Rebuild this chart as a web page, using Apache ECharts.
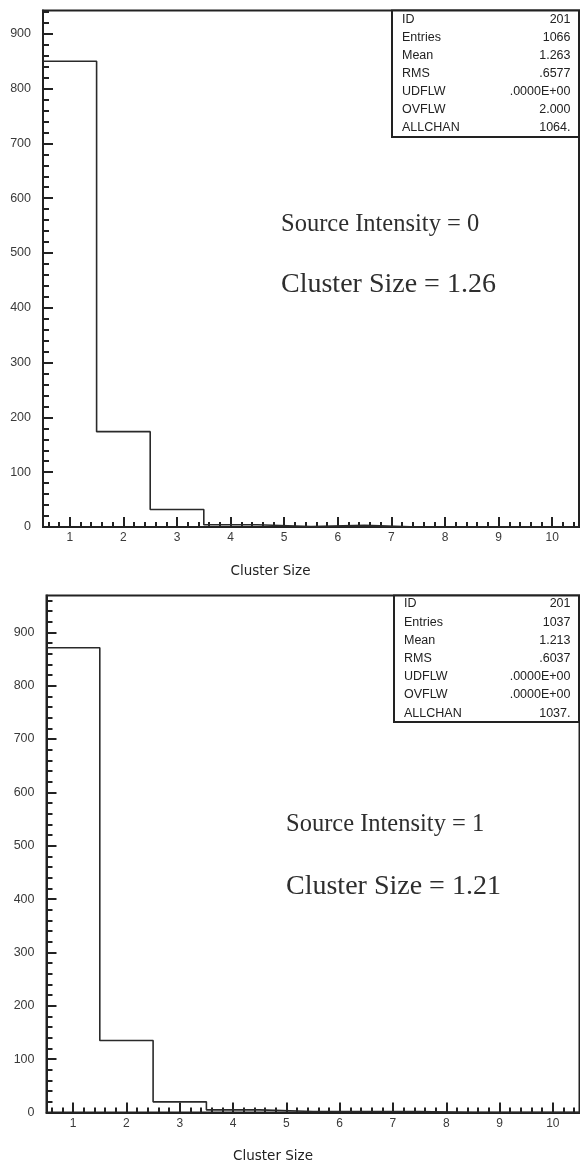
<!DOCTYPE html>
<html lang="en" style="height: 100%">
<head>
  <meta charset="utf-8">
</head>
<body style="height: 100%; margin: 0; background: #fff">
  <div id="container" style="width: 580px; height: 1163px"></div>

  <script type="text/javascript" src="https://cdn.jsdelivr.net/npm/echarts@6/dist/echarts.min.js"></script>

  <script type="text/javascript">
    var dom = document.getElementById('container');
    var myChart = echarts.init(dom, null, { renderer: 'canvas' });

    // histogram bins (cluster size 1..10)
    var binCenters = [1, 2, 3, 4, 5, 6, 7, 8, 9, 10];
    var countsIntensity0 = [850, 174, 32, 4, 1, 3, 0, 0, 0, 0];
    var countsIntensity1 = [871, 135, 20, 5, 2, 2, 2, 0, 0, 0];

    var xTickLabels = [1, 2, 3, 4, 5, 6, 7, 8, 9, 10];
    var yTickLabels = [0, 100, 200, 300, 400, 500, 600, 700, 800, 900];

    var statNames = ['ID', 'Entries', 'Mean', 'RMS', 'UDFLW', 'OVFLW', 'ALLCHAN'];
    var statValues0 = ['201', '1066', '1.263', '.6577', '.0000E+00', '2.000', '1064.'];
    var statValues1 = ['201', '1037', '1.213', '.6037', '.0000E+00', '.0000E+00', '1037.'];

    var annot0 = ['Source Intensity = 0', 'Cluster Size = 1.26'];
    var annot1 = ['Source Intensity = 1', 'Cluster Size = 1.21'];

    var ink = '#222';
    var textInk = '#3a3a3a';

    // outline of a histogram: flat top across each bin
    function stepData(centers, counts) {
      var pts = [];
      for (var i = 0; i < centers.length; i++) {
        pts.push([centers[i] - 0.5, counts[i]]);
        pts.push([centers[i] + 0.5, counts[i]]);
      }
      return pts;
    }

    var xMinor = [];
    for (var v = 6; v <= 104; v += 2) {
      if (v % 10 !== 0) xMinor.push(v / 10);
    }

    function yMinorTicks(max) {
      var arr = [];
      for (var t = 20; t < max; t += 20) {
        if (t % 100 !== 0) arr.push(t);
      }
      return arr;
    }

    var panels = [
      { grid: { left: 43, top: 10.5, width: 536, height: 516.5 }, ymax: 942.5, counts: countsIntensity0 },
      { grid: { left: 46.5, top: 595.5, width: 533, height: 517 }, ymax: 969, counts: countsIntensity1 }
    ];

    var grids = [], xAxes = [], yAxes = [], series = [];
    panels.forEach(function (p, i) {
      grids.push(Object.assign({
        show: true,
        borderColor: ink,
        borderWidth: 2,
        backgroundColor: 'transparent'
      }, p.grid));

      // main x axis: labels + major ticks
      xAxes.push({
        type: 'value', gridIndex: i, min: 0.5, max: 10.5, position: 'bottom',
        axisLine: { show: true, lineStyle: { color: ink, width: 2 } },
        axisTick: { show: true, inside: true, length: 10, customValues: xTickLabels, lineStyle: { color: ink, width: 2 } },
        axisLabel: { customValues: xTickLabels, margin: 5, color: textInk, fontSize: 12, fontFamily: 'Liberation Sans' },
        splitLine: { show: false }
      });
      // minor x ticks
      xAxes.push({
        type: 'value', gridIndex: i, min: 0.5, max: 10.5, position: 'bottom',
        axisLine: { show: false },
        axisTick: { show: true, inside: true, length: 5, customValues: xMinor, lineStyle: { color: ink, width: 2 } },
        axisLabel: { show: false },
        splitLine: { show: false }
      });
      yAxes.push({
        type: 'value', gridIndex: i, min: 0, max: p.ymax, position: 'left',
        axisLine: { show: true, lineStyle: { color: ink, width: 2 } },
        axisTick: { show: true, inside: true, length: 10, customValues: yTickLabels, lineStyle: { color: ink, width: 2 } },
        axisLabel: { customValues: yTickLabels, margin: 12, color: textInk, fontSize: 12.5, fontFamily: 'Liberation Sans' },
        splitLine: { show: false }
      });
      yAxes.push({
        type: 'value', gridIndex: i, min: 0, max: p.ymax, position: 'left',
        axisLine: { show: false },
        axisTick: { show: true, inside: true, length: 6, customValues: yMinorTicks(p.ymax), lineStyle: { color: ink, width: 2 } },
        axisLabel: { show: false },
        splitLine: { show: false }
      });

      series.push({
        type: 'line',
        xAxisIndex: i * 2,
        yAxisIndex: i * 2,
        data: stepData(binCenters, p.counts),
        showSymbol: false,
        lineStyle: { color: '#2a2a2a', width: 1.6 },
        silent: true
      });
    });

    function statsBox(left, top, right, bottom, firstRow, rowStep, values) {
      var els = [{
        type: 'rect',
        shape: { x: left, y: top, width: right - left, height: bottom - top },
        style: { fill: '#fff', stroke: ink, lineWidth: 2 },
        z: 10
      }];
      for (var i = 0; i < statNames.length; i++) {
        els.push({
          type: 'text', x: left + 10, y: firstRow + i * rowStep, z: 11,
          style: { text: statNames[i], fill: '#222', font: '12.5px "Liberation Sans"', verticalAlign: 'middle', align: 'left' }
        });
        els.push({
          type: 'text', x: right - 8.5, y: firstRow + i * rowStep, z: 11,
          style: { text: values[i], fill: '#222', font: '12.5px "Liberation Sans"', verticalAlign: 'middle', align: 'right' }
        });
      }
      return els;
    }

    function serifText(x, y, text, size) {
      return {
        type: 'text', x: x, y: y, z: 11,
        style: { text: text, fill: '#2e2e2e', font: size + 'px "Liberation Serif"', verticalAlign: 'middle', align: 'left' }
      };
    }

    function axisTitle(x, y) {
      return {
        type: 'text', x: x, y: y, z: 11,
        style: { text: 'Cluster Size', fill: '#222', font: '13.5px "DejaVu Sans"', verticalAlign: 'middle', align: 'center' }
      };
    }

    var graphics = []
      .concat(statsBox(392, 10.5, 579, 137, 20, 18, statValues0))
      .concat(statsBox(394, 595.5, 579, 722, 604, 18.2, statValues1))
      .concat([
        serifText(281, 225, annot0[0], 24.5),
        serifText(281, 285, annot0[1], 28),
        serifText(286, 825, annot1[0], 24.5),
        serifText(286, 887, annot1[1], 28),
        axisTitle(270.5, 571),
        axisTitle(273, 1156)
      ]);

    var option = {
      backgroundColor: '#fff',
      animation: false,
      grid: grids,
      xAxis: xAxes,
      yAxis: yAxes,
      series: series,
      graphic: graphics
    };

    myChart.setOption(option);
    window.addEventListener('resize', myChart.resize);
  </script>
</body>
</html>
